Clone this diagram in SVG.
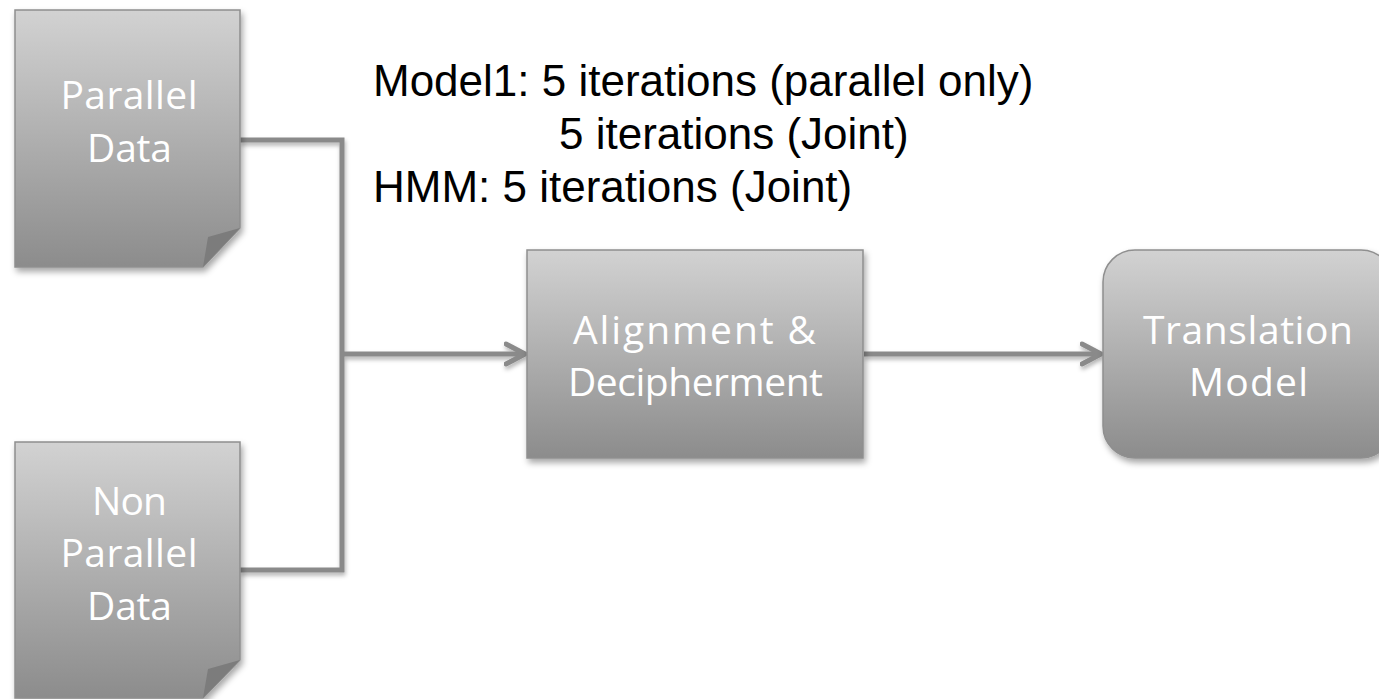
<svg xmlns="http://www.w3.org/2000/svg" width="1379" height="699" viewBox="0 0 1379 699">
<defs>
<linearGradient id="g" x1="0" y1="0" x2="0" y2="1">
<stop offset="0" stop-color="#d2d2d2"/>
<stop offset="1" stop-color="#8c8c8c"/>
</linearGradient>
<filter id="sh" x="-10%" y="-10%" width="130%" height="130%">
<feDropShadow dx="2" dy="4" stdDeviation="3" flood-color="#000" flood-opacity="0.35"/>
</filter>
<filter id="shc" filterUnits="userSpaceOnUse" x="0" y="0" width="1379" height="699">
<feDropShadow dx="1" dy="3" stdDeviation="2" flood-color="#000" flood-opacity="0.3"/>
</filter>
<marker id="arr" markerWidth="28" markerHeight="28" refX="21" refY="13" orient="auto" markerUnits="userSpaceOnUse">
<path d="M2,3 L21,13 L2,23" fill="none" stroke="#8a8a8a" stroke-width="5" stroke-linecap="round" stroke-linejoin="round"/>
</marker>
</defs>
<style>
.node{fill:url(#g);stroke:#8f8f8f;stroke-width:1.5;filter:url(#sh)}
.fold{fill:#7c7c7c}
.lbl{font-family:"Open Sans","Liberation Sans",sans-serif;font-size:39px;fill:#fff;text-anchor:middle}
.note{font-family:"Liberation Sans",Arial,sans-serif;font-size:44px;fill:#000}
.conn{fill:none;stroke:#8a8a8a;stroke-width:5}
</style>
<g id="connectors" filter="url(#shc)">
<path class="conn" d="M240,140 H342 V570 H240"/>
<path class="conn" d="M342,354 H525" marker-end="url(#arr)"/>
<path class="conn" d="M864,354 H1101" marker-end="url(#arr)"/>
</g>
<g id="parallel-data">
<path class="node" d="M15,10 H240 V228 L203,267 H15 Z"/>
<path class="fold" d="M240,228 L208,237 L203,267 Z"/>
<text class="lbl" x="129" y="109" textLength="137">Parallel</text>
<text class="lbl" x="129.5" y="162" textLength="85">Data</text>
</g>
<g id="non-parallel-data">
<path class="node" d="M15,442 H240 V660 L203,698 H15 Z"/>
<path class="fold" d="M240,660 L208,669 L203,698 Z"/>
<text class="lbl" x="129.5" y="515" textLength="75">Non</text>
<text class="lbl" x="129" y="567" textLength="137">Parallel</text>
<text class="lbl" x="129.5" y="620" textLength="85">Data</text>
</g>
<g id="alignment">
<rect class="node" x="527" y="250" width="336" height="208"/>
<text class="lbl" x="694.5" y="344" textLength="243">Alignment &amp;</text>
<text class="lbl" x="695.5" y="396" textLength="255">Decipherment</text>
</g>
<g id="translation-model">
<rect class="node" x="1103" y="250" width="290" height="208" rx="32" ry="32"/>
<text class="lbl" x="1248" y="344" textLength="210">Translation</text>
<text class="lbl" x="1248.5" y="396" textLength="119">Model</text>
</g>
<g id="notes">
<text class="note" x="373" y="96">Model1: 5 iterations (parallel only)</text>
<text class="note" x="559" y="149">5 iterations (Joint)</text>
<text class="note" x="373" y="202">HMM: 5 iterations (Joint)</text>
</g>
</svg>
